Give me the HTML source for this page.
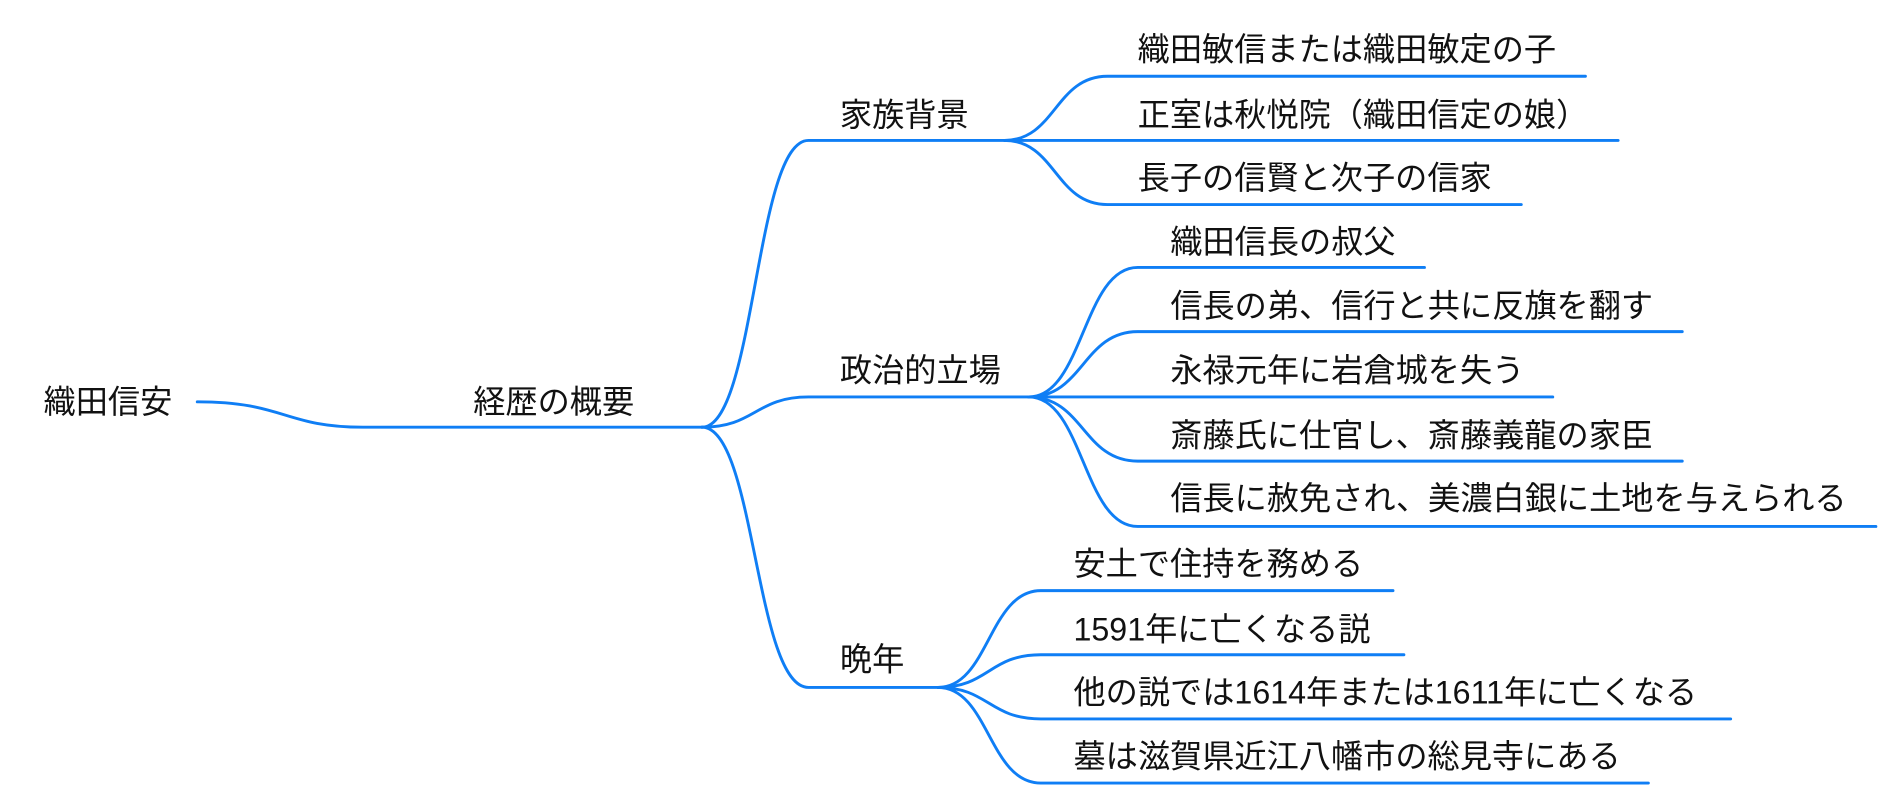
<!DOCTYPE html>
<html><head><meta charset="utf-8"><style>html,body{margin:0;padding:0;background:#fff;}svg{display:block}</style></head>
<body>
<svg width="1888" height="800" viewBox="0 0 1560 661" xmlns="http://www.w3.org/2000/svg">
<g fill="none" stroke="#0f7ef5" stroke-width="2.4" stroke-linecap="round">
<path d="M163 332 C235 332 235 353 300 353 L580 353"/>
<path d="M580 353 C624 353 624 116 668 116 L830 116"/>
<path d="M580 353 C624 353 624 328 668 328 L850 328"/>
<path d="M580 353 C624 353 624 568 668 568 L775 568"/>
<path d="M830 116 C872 116 872 63 915 63 L1310 63"/>
<path d="M830 116 C872 116 872 116 915 116 L1337 116"/>
<path d="M830 116 C872 116 872 169 915 169 L1257 169"/>
<path d="M850 328 C895 328 895 221 940 221 L1177 221"/>
<path d="M850 328 C895 328 895 274 940 274 L1390 274"/>
<path d="M850 328 C895 328 895 328 940 328 L1283 328"/>
<path d="M850 328 C895 328 895 381 940 381 L1390 381"/>
<path d="M850 328 C895 328 895 435 940 435 L1550 435"/>
<path d="M775 568 C817 568 817 488 860 488 L1151 488"/>
<path d="M775 568 C817 568 817 541 860 541 L1160 541"/>
<path d="M775 568 C817 568 817 594 860 594 L1430 594"/>
<path d="M775 568 C817 568 817 647 860 647 L1362 647"/>
</g>
<g font-family="'Liberation Sans','Noto Sans CJK JP',sans-serif" font-size="26.6" fill="#111" dominant-baseline="central">
<text x="36" y="332">織田信安</text>
<text x="391" y="332">経歴の概要</text>
<text x="694" y="95">家族背景</text>
<text x="694" y="306">政治的立場</text>
<text x="694" y="545">晩年</text>
<text x="940" y="41">織田敏信または織田敏定の子</text>
<text x="940" y="95">正室は秋悦院（織田信定の娘）</text>
<text x="940" y="147">長子の信賢と次子の信家</text>
<text x="967" y="200">織田信長の叔父</text>
<text x="967" y="253">信長の弟、信行と共に反旗を翻す</text>
<text x="967" y="306">永禄元年に岩倉城を失う</text>
<text x="967" y="360">斎藤氏に仕官し、斎藤義龍の家臣</text>
<text x="967" y="412">信長に赦免され、美濃白銀に土地を与えられる</text>
<text x="887" y="466">安土で住持を務める</text>
<text x="887" y="520">1591年に亡くなる説</text>
<text x="887" y="572">他の説では1614年または1611年に亡くなる</text>
<text x="887" y="625">墓は滋賀県近江八幡市の総見寺にある</text>
</g>
</svg>
</body></html>
